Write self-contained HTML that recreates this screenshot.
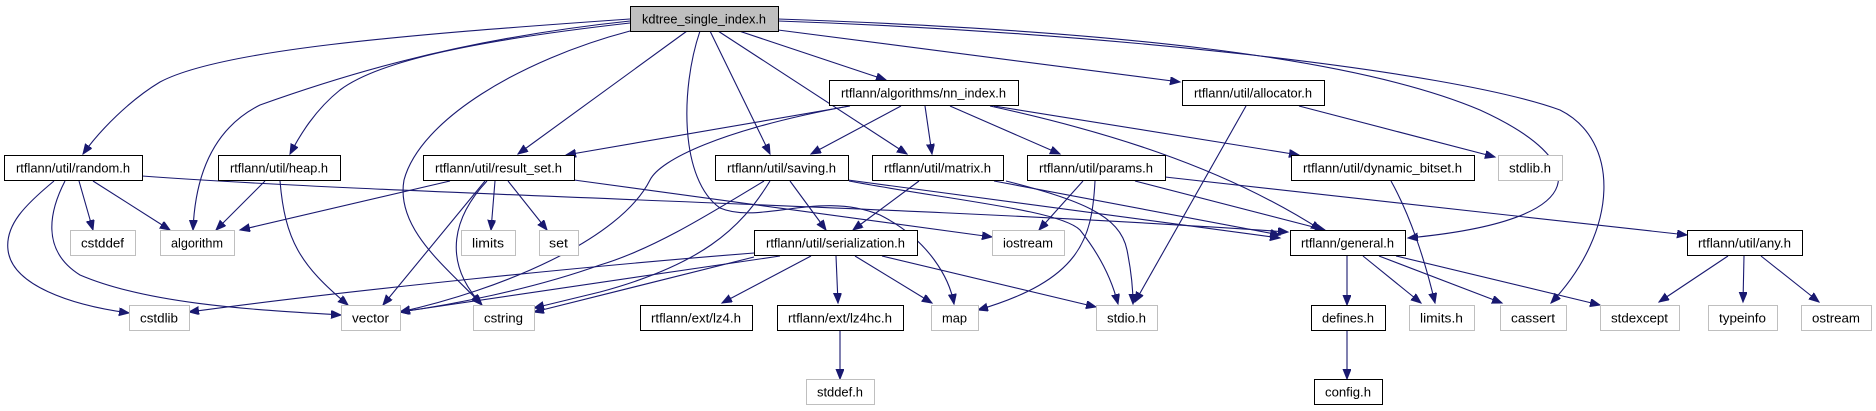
<!DOCTYPE html>
<html><head><meta charset="utf-8"><style>
html,body{margin:0;padding:0;background:#fff;}
svg{display:block;}
text{font-family:"Liberation Sans",Arial,sans-serif;font-size:12.5px;fill:#000;text-anchor:middle;}
.e{fill:none;stroke:#191970;stroke-width:1.1;marker-end:url(#a);}
.d{fill:#fff;stroke:#000;stroke-width:1;}
.s{fill:#fff;stroke:#bfbfbf;stroke-width:1;}
.m{fill:#bfbfbf;stroke:#000;stroke-width:1;}
</style></head><body>
<svg width="1876" height="411" viewBox="0 0 1876 411" xmlns="http://www.w3.org/2000/svg">
<defs><marker id="a" markerUnits="userSpaceOnUse" markerWidth="12" markerHeight="10" refX="10" refY="4" orient="auto"><path d="M0,0 L10,4 L0,8 z" fill="#191970" stroke="#191970"/></marker></defs>
<g>
<path class="e" d="M630,19 C400,35 220,50 160,82 C130,100 100,130 83,154"/>
<path class="e" d="M630,21 C450,40 330,80 260,105 C210,130 195,180 193,230"/>
<path class="e" d="M630,23 C480,40 380,60 340,90 C315,110 300,135 290,154"/>
<path class="e" d="M630,31 C520,60 420,120 404,180 C395,230 450,270 481,304"/>
<path class="e" d="M687,31 L518,154"/>
<path class="e" d="M700,31 C680,90 680,180 720,208 C760,225 820,190 880,215 C930,240 950,280 954,304"/>
<path class="e" d="M710,31 L770,154"/>
<path class="e" d="M718,31 L907,154"/>
<path class="e" d="M739,31 L886,80"/>
<path class="e" d="M778,30 L1180,82"/>
<path class="e" d="M778,19 C1100,30 1350,55 1480,110 C1590,160 1600,220 1408,238"/>
<path class="e" d="M778,21 C1100,32 1450,70 1560,110 C1620,140 1620,230 1551,303"/>
<path class="e" d="M79,181 L93,230"/>
<path class="e" d="M93,181 L170,230"/>
<path class="e" d="M54,181 C25,205 5,225 8,250 C12,285 70,305 129,313"/>
<path class="e" d="M65,181 C50,210 40,250 80,275 C150,305 260,310 341,315"/>
<path class="e" d="M142,176 C400,195 900,205 1288,232"/>
<path class="e" d="M265,181 L216,230"/>
<path class="e" d="M280,181 C285,240 300,265 348,305"/>
<path class="e" d="M450,181 L240,230"/>
<path class="e" d="M495,181 L491,230"/>
<path class="e" d="M508,181 L547,230"/>
<path class="e" d="M485,181 L383,305"/>
<path class="e" d="M487,181 C455,215 440,260 482,305"/>
<path class="e" d="M574,180 L992,237"/>
<path class="e" d="M850,106 L566,155"/>
<path class="e" d="M849,106 C720,130 660,160 650,180 C620,240 500,290 400,312"/>
<path class="e" d="M901,106 L811,154"/>
<path class="e" d="M925,106 L932,154"/>
<path class="e" d="M950,106 L1060,154"/>
<path class="e" d="M990,106 C1100,130 1220,165 1321,230"/>
<path class="e" d="M994,106 L1299,155"/>
<path class="e" d="M1299,106 L1495,157"/>
<path class="e" d="M1246,106 L1135,302"/>
<path class="e" d="M790,181 L826,230"/>
<path class="e" d="M764,181 C700,220 650,250 600,265 C530,290 450,305 400,312"/>
<path class="e" d="M770,181 C740,230 700,265 600,292 L534,308"/>
<path class="e" d="M848,180 L1280,238"/>
<path class="e" d="M849,181 C950,200 1060,210 1080,230 C1100,255 1112,280 1118,304"/>
<path class="e" d="M919,181 L853,230"/>
<path class="e" d="M994,181 L1280,235"/>
<path class="e" d="M1006,181 C1080,200 1120,215 1127,250 C1132,275 1133,290 1133,304"/>
<path class="e" d="M1083,181 L1039,230"/>
<path class="e" d="M1095,181 C1092,240 1080,280 978,310"/>
<path class="e" d="M1135,181 L1325,230"/>
<path class="e" d="M1165,177 L1687,235"/>
<path class="e" d="M754,253 C600,265 350,290 189,312"/>
<path class="e" d="M780,256 L400,312"/>
<path class="e" d="M754,257 L534,312"/>
<path class="e" d="M811,256 L722,303"/>
<path class="e" d="M836,256 L838,303"/>
<path class="e" d="M855,256 L932,303"/>
<path class="e" d="M882,256 L1096,307"/>
<path class="e" d="M840,330 L840,379"/>
<path class="e" d="M1391,181 C1410,215 1425,260 1435,303"/>
<path class="e" d="M1347,255 L1347,305"/>
<path class="e" d="M1363,256 L1421,303"/>
<path class="e" d="M1379,256 L1502,303"/>
<path class="e" d="M1396,256 L1600,305"/>
<path class="e" d="M1347,330 L1347,379"/>
<path class="e" d="M1728,256 L1659,302"/>
<path class="e" d="M1744,256 L1743,302"/>
<path class="e" d="M1761,256 L1819,302"/>
</g>
<g>
<rect class="m" x="630.5" y="6.5" width="148" height="25"/><text x="704" y="23.5" textLength="124" lengthAdjust="spacingAndGlyphs">kdtree_single_index.h</text>
<rect class="d" x="829.5" y="80.5" width="189" height="25"/><text x="923.5" y="97.5" textLength="165" lengthAdjust="spacingAndGlyphs">rtflann/algorithms/nn_index.h</text>
<rect class="d" x="1182.5" y="80.5" width="142" height="25"/><text x="1253" y="97.5" textLength="118" lengthAdjust="spacingAndGlyphs">rtflann/util/allocator.h</text>
<rect class="d" x="4.5" y="155.5" width="138" height="25"/><text x="73" y="172.5" textLength="114" lengthAdjust="spacingAndGlyphs">rtflann/util/random.h</text>
<rect class="d" x="218.5" y="155.5" width="122" height="25"/><text x="279" y="172.5" textLength="98" lengthAdjust="spacingAndGlyphs">rtflann/util/heap.h</text>
<rect class="d" x="423.5" y="155.5" width="151" height="25"/><text x="498.5" y="172.5" textLength="127" lengthAdjust="spacingAndGlyphs">rtflann/util/result_set.h</text>
<rect class="d" x="715.5" y="155.5" width="133" height="25"/><text x="781.5" y="172.5" textLength="109" lengthAdjust="spacingAndGlyphs">rtflann/util/saving.h</text>
<rect class="d" x="872.5" y="155.5" width="131" height="25"/><text x="937.5" y="172.5" textLength="107" lengthAdjust="spacingAndGlyphs">rtflann/util/matrix.h</text>
<rect class="d" x="1027.5" y="155.5" width="138" height="25"/><text x="1096" y="172.5" textLength="114" lengthAdjust="spacingAndGlyphs">rtflann/util/params.h</text>
<rect class="d" x="1291.5" y="155.5" width="183" height="25"/><text x="1382.5" y="172.5" textLength="159" lengthAdjust="spacingAndGlyphs">rtflann/util/dynamic_bitset.h</text>
<rect class="s" x="1498.5" y="155.5" width="64" height="25"/><text x="1530" y="172.5" textLength="42" lengthAdjust="spacingAndGlyphs">stdlib.h</text>
<rect class="s" x="70.5" y="230.5" width="65" height="25"/><text x="102.5" y="247.5" textLength="43" lengthAdjust="spacingAndGlyphs">cstddef</text>
<rect class="s" x="160.5" y="230.5" width="74" height="25"/><text x="197" y="247.5" textLength="52" lengthAdjust="spacingAndGlyphs">algorithm</text>
<rect class="s" x="461.5" y="230.5" width="54" height="25"/><text x="488" y="247.5" textLength="32" lengthAdjust="spacingAndGlyphs">limits</text>
<rect class="s" x="539.5" y="230.5" width="39" height="25"/><text x="558.5" y="247.5" textLength="19" lengthAdjust="spacingAndGlyphs">set</text>
<rect class="d" x="754.5" y="230.5" width="163" height="25"/><text x="835.5" y="247.5" textLength="139" lengthAdjust="spacingAndGlyphs">rtflann/util/serialization.h</text>
<rect class="s" x="992.5" y="230.5" width="72" height="25"/><text x="1028" y="247.5" textLength="50" lengthAdjust="spacingAndGlyphs">iostream</text>
<rect class="d" x="1290.5" y="230.5" width="115" height="25"/><text x="1347.5" y="247.5" textLength="93" lengthAdjust="spacingAndGlyphs">rtflann/general.h</text>
<rect class="d" x="1687.5" y="230.5" width="115" height="25"/><text x="1744.5" y="247.5" textLength="93" lengthAdjust="spacingAndGlyphs">rtflann/util/any.h</text>
<rect class="s" x="129.5" y="305.5" width="60" height="25"/><text x="159" y="322.5" textLength="38" lengthAdjust="spacingAndGlyphs">cstdlib</text>
<rect class="s" x="341.5" y="305.5" width="59" height="25"/><text x="370.5" y="322.5" textLength="37" lengthAdjust="spacingAndGlyphs">vector</text>
<rect class="s" x="473.5" y="305.5" width="61" height="25"/><text x="503.5" y="322.5" textLength="39" lengthAdjust="spacingAndGlyphs">cstring</text>
<rect class="d" x="640.5" y="305.5" width="112" height="25"/><text x="696" y="322.5" textLength="90" lengthAdjust="spacingAndGlyphs">rtflann/ext/lz4.h</text>
<rect class="d" x="777.5" y="305.5" width="126" height="25"/><text x="840" y="322.5" textLength="104" lengthAdjust="spacingAndGlyphs">rtflann/ext/lz4hc.h</text>
<rect class="s" x="931.5" y="305.5" width="47" height="25"/><text x="954.5" y="322.5" textLength="25" lengthAdjust="spacingAndGlyphs">map</text>
<rect class="s" x="1096.5" y="305.5" width="61" height="25"/><text x="1126.5" y="322.5" textLength="39" lengthAdjust="spacingAndGlyphs">stdio.h</text>
<rect class="d" x="1311.5" y="305.5" width="74" height="25"/><text x="1348" y="322.5" textLength="52" lengthAdjust="spacingAndGlyphs">defines.h</text>
<rect class="s" x="1409.5" y="305.5" width="65" height="25"/><text x="1441.5" y="322.5" textLength="43" lengthAdjust="spacingAndGlyphs">limits.h</text>
<rect class="s" x="1500.5" y="305.5" width="66" height="25"/><text x="1533" y="322.5" textLength="44" lengthAdjust="spacingAndGlyphs">cassert</text>
<rect class="s" x="1600.5" y="305.5" width="79" height="25"/><text x="1639.5" y="322.5" textLength="57" lengthAdjust="spacingAndGlyphs">stdexcept</text>
<rect class="s" x="1708.5" y="305.5" width="69" height="25"/><text x="1742.5" y="322.5" textLength="47" lengthAdjust="spacingAndGlyphs">typeinfo</text>
<rect class="s" x="1801.5" y="305.5" width="70" height="25"/><text x="1836" y="322.5" textLength="48" lengthAdjust="spacingAndGlyphs">ostream</text>
<rect class="s" x="806.5" y="379.5" width="68" height="25"/><text x="840" y="396.5" textLength="46" lengthAdjust="spacingAndGlyphs">stddef.h</text>
<rect class="d" x="1314.5" y="379.5" width="68" height="25"/><text x="1348" y="396.5" textLength="46" lengthAdjust="spacingAndGlyphs">config.h</text>
</g>
</svg>
</body></html>
